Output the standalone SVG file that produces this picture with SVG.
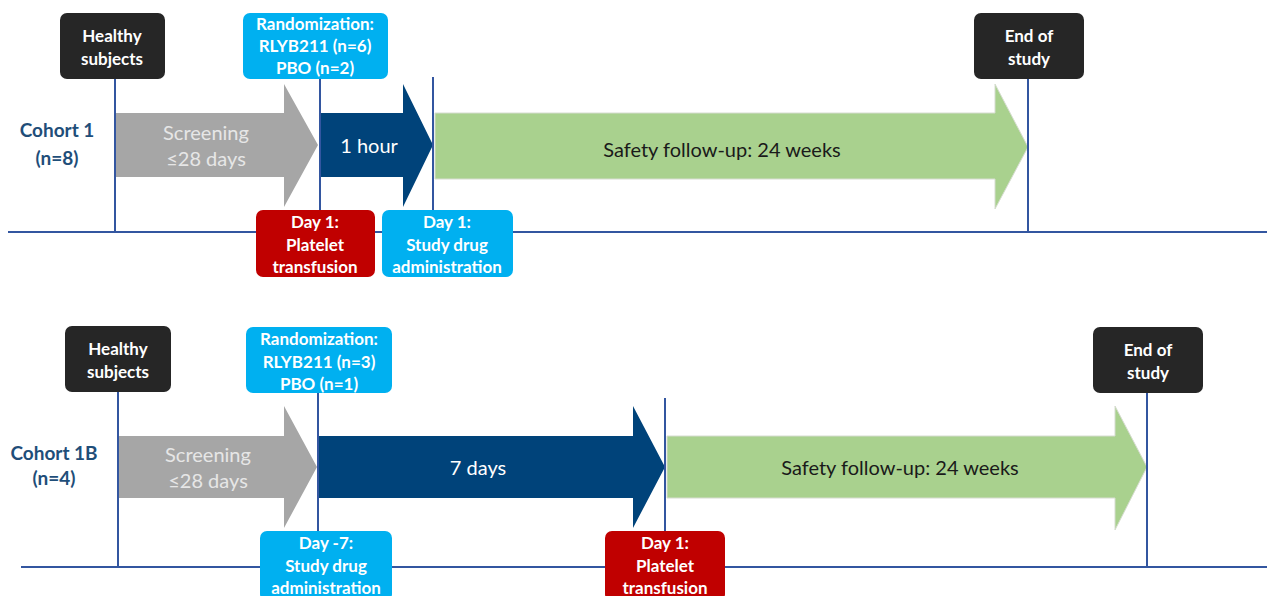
<svg xmlns="http://www.w3.org/2000/svg" width="1267" height="596" viewBox="0 0 1267 596">
<style>
.bg{fill:#ffffff}
.ln{stroke:#3356A0;stroke-width:2;fill:none}
.dark{fill:#262626}
.lb{fill:#00B0F0}
.red{fill:#C00000}
.gray{fill:#A6A6A6}
.navy{fill:#00437A}
.green{fill:#A9D18E;stroke:#D6DCD0;stroke-width:1}
.bt{font-family:Lato,"Liberation Sans",sans-serif;font-weight:bold;font-size:17px;fill:#ffffff;text-anchor:middle}
.coh{font-family:Lato,"Liberation Sans",sans-serif;font-weight:bold;font-size:19px;fill:#1F4E79;text-anchor:middle}
.at{font-family:Lato,"Liberation Sans",sans-serif;font-size:20px;text-anchor:middle}
</style>
<rect class="bg" x="0" y="0" width="1267" height="596"/>

<g id="c1-screening"><path class="gray" d="M115,113 H284 V84 L318,145 L284,207 V177 H115 Z"/>
<text class="at" x="206" y="140" fill="#E6E6E6">Screening</text><text class="at" x="206" y="166" fill="#E6E6E6">≤28 days</text></g>
<g id="c1-hour"><path class="navy" d="M320,113 H403 V84 L433,145 L403,207 V177 H320 Z"/>
<text class="at" x="369" y="153" fill="#ffffff">1 hour</text></g>
<g id="c1-safety"><path class="green" d="M435,113 H995 V84 L1028,147 L995,209 V179 H435 Z"/>
<text class="at" x="722" y="157" fill="#1a1a1a">Safety follow-up: 24 weeks</text></g>

<g id="c2-screening"><path class="gray" d="M118,436 H284 V406 L317,467 L284,528 V498 H118 Z"/>
<text class="at" x="208" y="462" fill="#E6E6E6">Screening</text><text class="at" x="208" y="488" fill="#E6E6E6">≤28 days</text></g>
<g id="c2-days"><path class="navy" d="M319,436 H633 V406 L665,467 L633,528 V498 H319 Z"/>
<text class="at" x="478" y="475" fill="#ffffff">7 days</text></g>
<g id="c2-safety"><path class="green" d="M667,436 H1115 V406 L1147,467 L1115,530 V498 H667 Z"/>
<text class="at" x="900" y="475" fill="#1a1a1a">Safety follow-up: 24 weeks</text></g>

<g id="connectors">
<line class="ln" x1="8" y1="232" x2="1267" y2="232"/>
<line class="ln" x1="115" y1="79" x2="115" y2="232"/>
<line class="ln" x1="320" y1="79" x2="320" y2="210"/>
<line class="ln" x1="433" y1="77" x2="433" y2="210"/>
<line class="ln" x1="1028" y1="78" x2="1028" y2="232"/>
<line class="ln" x1="21" y1="567" x2="1267" y2="567"/>
<line class="ln" x1="118" y1="392" x2="118" y2="567"/>
<line class="ln" x1="318" y1="393" x2="318" y2="531"/>
<line class="ln" x1="665" y1="398" x2="665" y2="567"/>
<line class="ln" x1="1147" y1="393" x2="1147" y2="567"/>
</g>

<g id="cohort1"><text class="coh" x="57" y="137">Cohort 1</text><text class="coh" x="57" y="165">(n=8)</text></g>
<g id="cohort1b"><text class="coh" x="54" y="460">Cohort 1B</text><text class="coh" x="54" y="485">(n=4)</text></g>

<g id="c1-healthy"><rect class="dark" x="60" y="13" width="105" height="66" rx="7"/>
<text class="bt" x="112" y="42">Healthy</text><text class="bt" x="112" y="65">subjects</text></g>
<g id="c1-random"><rect class="lb" x="243" y="13" width="145" height="66" rx="7"/>
<text class="bt" x="315" y="30">Randomization:</text><text class="bt" x="315" y="52">RLYB211 (n=6)</text><text class="bt" x="315" y="74">PBO (n=2)</text></g>
<g id="c1-end"><rect class="dark" x="974" y="13" width="110" height="66" rx="7"/>
<text class="bt" x="1029" y="42">End of</text><text class="bt" x="1029" y="65">study</text></g>
<g id="c1-platelet"><rect class="red" x="256" y="210" width="119" height="67" rx="7"/>
<text class="bt" x="315" y="228">Day 1:</text><text class="bt" x="315" y="251">Platelet</text><text class="bt" x="315" y="273">transfusion</text></g>
<g id="c1-drug"><rect class="lb" x="382" y="210" width="131" height="67" rx="7"/>
<text class="bt" x="447" y="228">Day 1:</text><text class="bt" x="447" y="251">Study drug</text><text class="bt" x="447" y="273">administration</text></g>

<g id="c2-healthy"><rect class="dark" x="65" y="326" width="106" height="66" rx="7"/>
<text class="bt" x="118" y="355">Healthy</text><text class="bt" x="118" y="378">subjects</text></g>
<g id="c2-random"><rect class="lb" x="246" y="327" width="146" height="66" rx="7"/>
<text class="bt" x="319" y="345">Randomization:</text><text class="bt" x="319" y="368">RLYB211 (n=3)</text><text class="bt" x="319" y="390">PBO (n=1)</text></g>
<g id="c2-end"><rect class="dark" x="1093" y="327" width="110" height="66" rx="7"/>
<text class="bt" x="1148" y="356">End of</text><text class="bt" x="1148" y="379">study</text></g>
<g id="c2-drug"><rect class="lb" x="260" y="531" width="132" height="70" rx="7"/>
<text class="bt" x="326" y="549">Day -7:</text><text class="bt" x="326" y="572">Study drug</text><text class="bt" x="326" y="594">administration</text></g>
<g id="c2-platelet"><rect class="red" x="605" y="531" width="120" height="70" rx="7"/>
<text class="bt" x="665" y="549">Day 1:</text><text class="bt" x="665" y="572">Platelet</text><text class="bt" x="665" y="594">transfusion</text></g>
</svg>
